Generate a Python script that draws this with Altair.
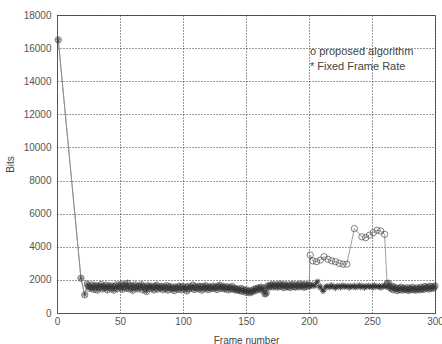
import altair as alt
import pandas as pd

# ---------------- data ----------------
fixed_frames = [1, 19, 22] + list(range(24, 301))
fixed_bits = [
    16500, 2100, 1100,
    1750, 1620, 1480, 1560, 1700, 1420, 1590, 1650, 1380, 1610,
    1540, 1720, 1450, 1600, 1530, 1680, 1400, 1570, 1640, 1490,
    1610, 1380, 1550, 1700, 1470, 1620, 1560, 1750, 1430, 1600,
    1680, 1510, 1800, 1460, 1590, 1640, 1370, 1580, 1700, 1520,
    1450, 1620, 1560, 1710, 1400, 1600, 1530, 1300, 1650, 1570,
    1480, 1620, 1540, 1390, 1600, 1680, 1450, 1560, 1500, 1620,
    1410, 1570, 1490, 1650, 1380, 1540, 1600, 1460, 1520, 1350,
    1580, 1500, 1430, 1620, 1550, 1400, 1600, 1480, 1540, 1330,
    1610, 1470, 1560, 1500, 1680, 1420, 1590, 1530, 1450, 1620,
    1560, 1380, 1600, 1490, 1650, 1520, 1410, 1580, 1540, 1470,
    1630, 1500, 1560, 1420, 1590, 1680, 1480, 1550, 1610, 1440,
    1520, 1580, 1400, 1540, 1470, 1600, 1430, 1500, 1380, 1460,
    1400, 1350, 1480, 1300, 1420, 1360, 1250, 1380, 1300, 1220,
    1340, 1280, 1420, 1350, 1480, 1400, 1520, 1450, 1560, 1380,
    1500, 1150, 1200, 1620, 1550, 1680, 1600, 1720, 1580, 1650,
    1700, 1560, 1640, 1750, 1600, 1680, 1530, 1710, 1620, 1580,
    1690, 1540, 1650, 1730, 1600, 1560, 1700, 1640, 1580, 1750,
    1620, 1680, 1550, 1720, 1600, 1660, 1700, 1580, 1640, 1750,
    1600, 1680, 1850, 1920, 1550, 1640, 1450, 1300, 1380, 1600,
    1580, 1650, 1520, 1600, 1700, 1560, 1620, 1480, 1640, 1580,
    1660, 1520, 1600, 1700, 1550, 1620, 1580, 1660, 1500, 1640,
    1600, 1560, 1680, 1520, 1620, 1580, 1700, 1540, 1610, 1650,
    1500, 1620, 1580, 1680, 1550, 1600, 1640, 1520, 1700, 1580,
    1620, 1560, 1660, 1500, 1640, 1580, 1700, 1550, 1620, 1800,
    1560, 1480, 1620, 1400, 1550, 1500, 1350, 1480, 1420, 1560,
    1380, 1500, 1450, 1400, 1530, 1360, 1480, 1420, 1550, 1400,
    1470, 1380, 1520, 1450, 1400, 1560, 1480, 1420, 1600, 1500,
    1550, 1450, 1620, 1480, 1580, 1500, 1640,
]

# proposed algorithm: frames where it differs from the fixed frame rate
prop_burst_frames = [201, 203, 206, 209, 212, 215, 218, 221, 224, 227, 230,
                     236, 242, 245, 248, 251, 254, 257, 260, 262]
prop_burst_bits = [3500, 3150, 3100, 3200, 3400, 3250, 3150, 3100, 3000, 2950, 2950,
                   5100, 4600, 4550, 4700, 4850, 5000, 4950, 4750, 1750]

legend_labels = ["o proposed algorithm", "* Fixed Frame Rate"]
x_ticks = [0, 50, 100, 150, 200, 250, 300]
y_ticks = [0, 2000, 4000, 6000, 8000, 10000, 12000, 14000, 16000, 18000]

# ---------------- tables ----------------
fixed_df = pd.DataFrame({"frame": fixed_frames, "bits": fixed_bits})
prop_df = pd.concat([
    fixed_df[fixed_df.frame <= 200],
    pd.DataFrame({"frame": prop_burst_frames, "bits": prop_burst_bits}),
    fixed_df[fixed_df.frame >= 263],
]).sort_values("frame").reset_index(drop=True)

FONT = "Liberation Sans"
star = "M-1,0L1,0M0,-1L0,1M-0.7,-0.7L0.7,0.7M-0.7,0.7L0.7,-0.7"

x_enc = alt.X("frame:Q", scale=alt.Scale(domain=[0, 300], nice=False),
              axis=alt.Axis(values=x_ticks, title="Frame number", labelPadding=3,
                            titlePadding=9, labelFlush=False, labelOverlap=False))
y_enc = alt.Y("bits:Q", scale=alt.Scale(domain=[0, 18000], nice=False),
              axis=alt.Axis(values=y_ticks, format="d", title="Bits", labelPadding=6,
                            titlePadding=8, labelFlush=False, labelOverlap=False))

fixed_line = alt.Chart(fixed_df).mark_line(color="#888", strokeWidth=0.8).encode(x=x_enc, y=y_enc)
fixed_pts = alt.Chart(fixed_df).mark_point(shape=star, size=30, color="#2a2a2a",
                                           strokeWidth=1, filled=False).encode(x=x_enc, y=y_enc)
prop_line = alt.Chart(prop_df).mark_line(color="#888", strokeWidth=0.8).encode(x=x_enc, y=y_enc)
prop_pts = alt.Chart(prop_df).mark_point(shape="circle", size=40, color="#3a3a3a",
                                         strokeWidth=0.9, filled=False).encode(x=x_enc, y=y_enc)

leg1 = alt.Chart(pd.DataFrame({"t": [legend_labels[0]]})).mark_text(
    align="left", baseline="middle", font=FONT, fontSize=11, color="#444"
).encode(x=alt.value(253), y=alt.value(37), text="t:N")
leg2 = alt.Chart(pd.DataFrame({"t": [legend_labels[1]]})).mark_text(
    align="left", baseline="middle", font=FONT, fontSize=11, color="#444"
).encode(x=alt.value(253), y=alt.value(52), text="t:N")

chart = alt.layer(fixed_line, prop_line, fixed_pts, prop_pts, leg1, leg2).properties(
    width=378, height=298,
    autosize=alt.AutoSizeParams(type="none"),
    padding={"left": 57, "top": 15, "right": 7, "bottom": 31},
    background="white",
).configure_view(stroke="#666", strokeWidth=1).configure_axis(
    grid=True, gridDash=[1, 2], gridColor="#222", gridOpacity=0.9, gridWidth=1,
    domainColor="#555", ticks=False, labelOverlap=False, labelFlush=False,
    labelFont=FONT, labelFontSize=10, labelColor="#555",
    titleFont=FONT, titleFontSize=10, titleColor="#444", titleFontWeight="normal",
)

chart.save("out.html", embed_options={"renderer": "svg", "actions": False})
